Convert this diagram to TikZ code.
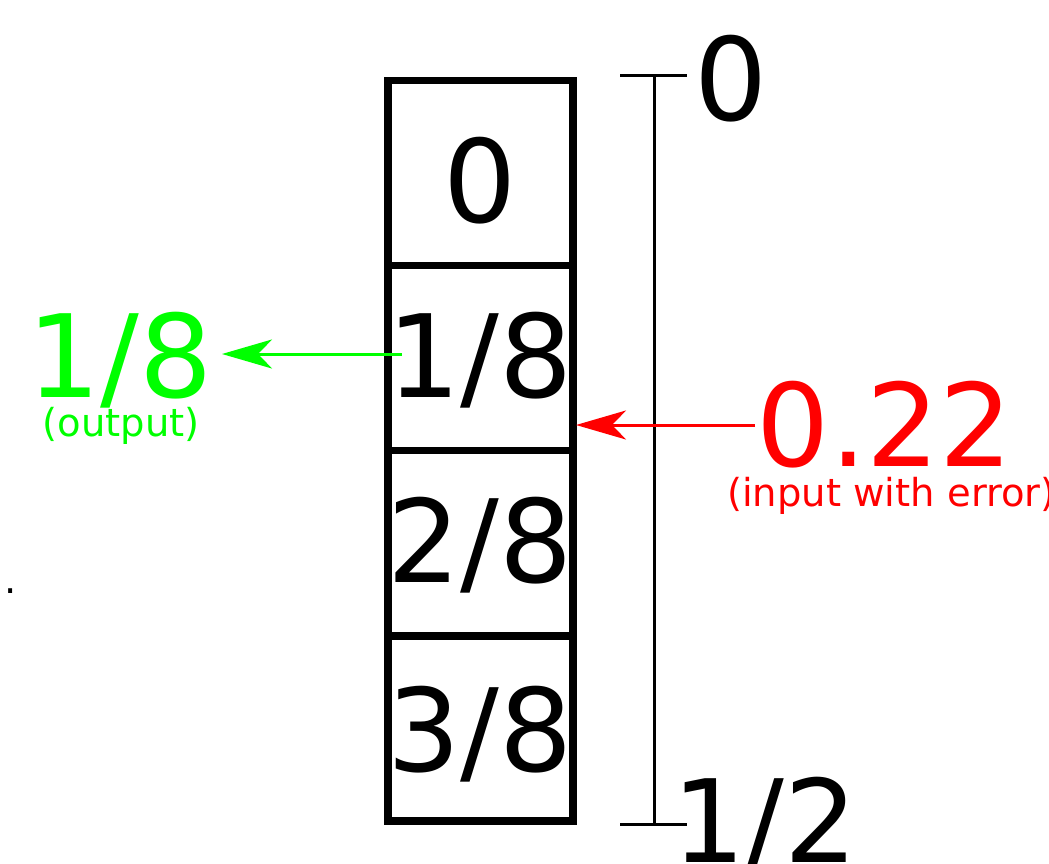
\documentclass[tikz,border=0pt]{standalone}
\usepackage{fontspec}
\setmainfont{DejaVu Sans}
\usetikzlibrary{arrows.meta}
\definecolor{grn}{RGB}{0,255,0}
\definecolor{rd}{RGB}{255,0,0}
\tikzset{
  cell/.style={draw=black, line width=7.5pt},
  big/.style={inner sep=0pt, anchor=base, font=\fontsize{115}{130}\selectfont},
  small/.style={inner sep=0pt, anchor=base, font=\fontsize{38.5}{46}\selectfont},
  scalebar/.style={line width=3pt},
  tip/.style={-{Stealth[length=50pt, width=29pt, inset=14pt]}, line width=3pt},
}
\begin{document}
\begin{tikzpicture}[x=1pt, y=-1pt]
\useasboundingbox (0,0) rectangle (1049,864);
% cells
\draw[cell] (388,80.5) rectangle (573,265.5);
\draw[cell] (388,265.5) rectangle (573,450.5);
\draw[cell] (388,450.5) rectangle (573,636);
\draw[cell] (388,636) rectangle (573,821);
\node[big] (c0) at (480,222) {0};
\node[big] (c1) at (480,397) {1/8};
\node[big] (c2) at (480,582) {2/8};
\node[big] (c3) at (480,771) {3/8};
% scale bar
\coordinate (st) at (654,75.5);
\coordinate (sb) at (654,824);
\draw[scalebar] (st) -- (sb);
\draw[scalebar] (620,75.5) -- (687,75.5);
\draw[scalebar] (620,824) -- (687,824);
\node[big] (s0) at (731,121) {0};
\node[big] (s1) at (765,862) {1/2};
% output
\node[big, text=grn] (out) at (120,397) {1/8};
\node[small, text=grn] (outl) at (121,436) {(output)};
\coordinate (gs) at (402,354);
\coordinate (ge) at (222,354);
\draw[tip, grn] (gs) -- (ge);
% input
\node[big, text=rd] (inp) at (885,466) {0.22};
\node[small, text=rd, anchor=base west] (inpl) at (727,506) {(input with error)};
\coordinate (rs) at (755,425);
\coordinate (re) at (576,425);
\draw[tip, rd] (rs) -- (re);
% stray dot
\node[small] (dot) at (11,593) {.};
\end{tikzpicture}
\end{document}
